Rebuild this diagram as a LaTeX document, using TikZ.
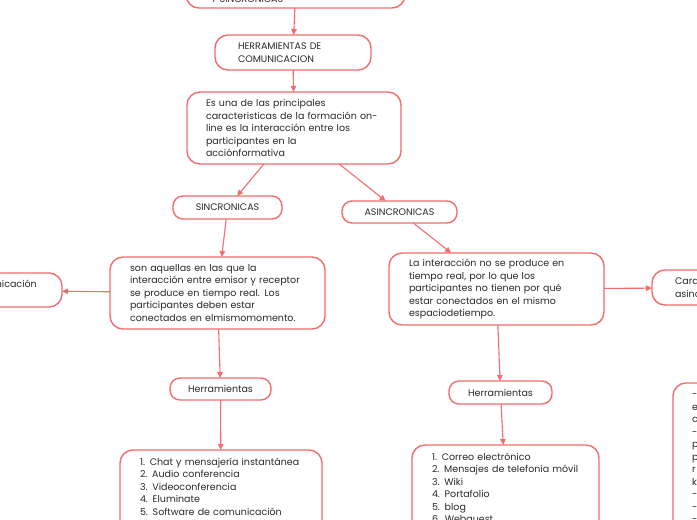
\documentclass[tikz,border=0pt]{standalone}
\usepackage{fontspec}
\setmainfont{Poppins}
\usetikzlibrary{arrows.meta}
\definecolor{edge}{HTML}{F26D6D}
\definecolor{ink}{HTML}{2A2A2A}
\newcommand\nb[1]{\mbox{#1}}
\begin{document}
\begin{tikzpicture}[x=1pt,y=-1pt,
  box/.style={draw=edge, line width=1.4pt, fill=white, rounded corners=13pt, text=ink,
    font=\fontsize{9.5}{12.5}\selectfont, align=left, inner ysep=0pt, outer sep=0pt},
  pill/.style={box, rounded corners=10pt, align=center, inner xsep=0pt},
  conn/.style={draw=edge, line width=1.1pt, -{Triangle[length=6pt,width=5.5pt]}}]
\useasboundingbox (0,0) rectangle (697,520);
\clip (0,0) rectangle (697,520);
\fill[white] (0,0) rectangle (697,520);

\node[box, text width=169pt, inner xsep=25pt, minimum height=30pt] (top) at (295.5,-7)
  {\nb{HERRAMIENTAS ASINCRONICAS}\\\nb{Y SINCRONICAS}};
\node[box, text width=110pt, inner xsep=23pt, minimum height=35pt] (herr) at (293,52.5)
  {\nb{HERRAMIENTAS DE}\\\nb{COMUNICACION}};
\node[box, text width=176pt, inner xsep=19pt, minimum height=72pt] (esuna) at (294,128)
  {\nb{Es una de las principales}\\\nb{caracteristicas de la formación on-}\\\nb{line es la interacción entre los}\\\nb{participantes en la}\\\nb{acciónformativa}};
\node[pill, minimum width=109pt, minimum height=23pt] (sinc) at (227.5,207.5) {SINCRONICAS};
\node[pill, minimum width=115pt, minimum height=22pt] (asinc) at (399.5,212) {ASINCRONICAS};
\node[box, text width=175pt, inner xsep=20pt, minimum height=72pt] (sdesc) at (217.5,293)
  {\nb{son aquellas en las que la}\\\nb{interacción entre emisor y receptor}\\\nb{se produce en tiempo real. Los}\\\nb{participantes deben estar}\\\nb{conectados en elmismomomento.}};
\node[box, text width=177pt, inner xsep=20pt, minimum height=34pt] (sleft) at (-46.5,290)
  {\nb{Características de la comunicación}\\\nb{sincrónica}};
\node[box, text width=175pt, inner xsep=20pt, minimum height=72pt] (adesc) at (496.5,289)
  {\nb{La interacción no se produce en}\\\nb{tiempo real, por lo que los}\\\nb{participantes no tienen por qué}\\\nb{estar conectados en el mismo}\\\nb{espaciodetiempo.}};
\node[box, text width=190pt, inner xsep=23pt, minimum height=35pt] (aright) at (770,287.5)
  {\nb{Características de la comunicación}\\\nb{asincrónica}};
\node[pill, minimum width=101pt, minimum height=22pt] (herrl) at (220.5,389) {Herramientas};
\node[pill, minimum width=103pt, minimum height=23pt] (herrr) at (500.5,392.5) {Herramientas};
\node[box, text width=162pt, inner xsep=20pt, minimum height=88pt] (toolsl) at (221,494)
  {\nb{1. Chat y mensajería instantánea}\\\nb{2. Audio conferencia}\\\nb{3. Videoconferencia}\\\nb{4. Eluminate}\\\nb{5. Software de comunicación}\\\nb{6. Pizarra digital}};
\node[box, text width=147pt, inner xsep=20pt, minimum height=88pt] (toolsr) at (505.5,489)
  {\nb{1. Correo electrónico}\\\nb{2. Mensajes de telefonía móvil}\\\nb{3. Wiki}\\\nb{4. Portafolio}\\\nb{5. blog}\\\nb{6. Webquest}};
\node[box, text width=162pt, inner xsep=19pt, minimum height=151pt] (far) at (773,458.5)
  {-\\e\\c\\-\\p\\p\\r\\k\\-\\-\\-};

\draw[conn] (top) -- (herr);
\draw[conn] (herr) -- (esuna);
\draw[conn] (esuna) -- (sinc);
\draw[conn] (esuna) -- (asinc);
\draw[conn] (sinc) -- (sdesc);
\draw[conn] (sdesc) -- (sleft);
\draw[conn] (sdesc) -- (herrl);
\draw[conn] (herrl) -- (toolsl);
\draw[conn] (asinc) -- (adesc);
\draw[conn] (adesc) -- (aright);
\draw[conn] (adesc) -- (herrr);
\draw[conn] (herrr) -- (toolsr);
\end{tikzpicture}
\end{document}
